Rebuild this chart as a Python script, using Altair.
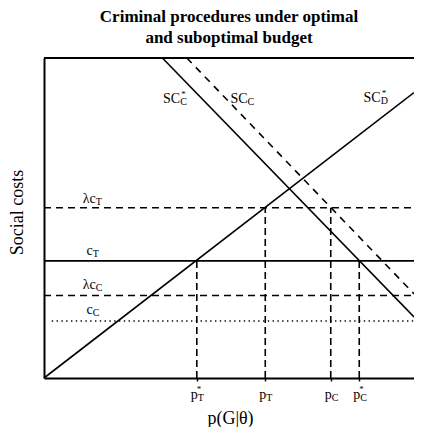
import altair as alt
import pandas as pd

FONT = "Liberation Serif, Times New Roman, Times, serif"

# horizontal cost levels
h_label = ["λc_T", "c_T", "λc_C", "c_C"]
h_y = [53.2, 36.6, 25.8, 17.8]
h_x0 = [0.0, 0.0, 0.0, 2.1]
h_style = ["dashed", "solid", "dashed", "dotted"]

# social-cost curves (end points)
curve_name = ["SC_D*", "SC_D*", "SC_C*", "SC_C*", "SC_C", "SC_C"]
curve_x = [0.0, 100.0, 32.0, 100.0, 38.6, 100.0]
curve_y = [0.0, 89.2, 100.0, 19.1, 100.0, 26.3]
curve_style = ["solid", "solid", "solid", "solid", "dashed", "dashed"]

# probability thresholds on the x axis
p_x = [41.3, 59.8, 77.5, 85.2]
p_top = [36.6, 53.2, 53.2, 36.6]
p_sub = ["T", "T", "C", "C"]
p_star = ["*", "", "", "*"]

# curve / level labels
lab_main = ["SC", "SC", "SC", "λc", "c", "λc", "c"]
lab_sub = ["C", "C", "D", "T", "T", "C", "C"]
lab_star = ["*", "", "*", "", "", "", ""]
lab_x = [36.8, 55.0, 91.0, 14.0, 13.2, 14.0, 13.2]
lab_y = [85.8, 85.8, 86.2, 54.8, 38.5, 27.7, 20.0]

h_df = pd.DataFrame({"label": h_label, "y": h_y, "x0": h_x0, "x1": [100.0] * 4, "style": h_style})
c_df = pd.DataFrame({"name": curve_name, "x": curve_x, "y": curve_y, "style": curve_style})
p_df = pd.DataFrame({"x": p_x, "y0": [0.0] * 4, "y1": p_top, "main": ["p"] * 4, "sub": p_sub, "star": p_star})
l_df = pd.DataFrame({"main": lab_main, "sub": lab_sub, "star": lab_star, "x": lab_x, "y": lab_y})
top_df = pd.DataFrame({"x0": [0.0], "x1": [100.0], "y": [100.0]})

xs = alt.Scale(domain=[0, 100], nice=False, zero=False)
ys = alt.Scale(domain=[0, 100], nice=False, zero=False)

x_axis = alt.Axis(values=p_x, labels=False, ticks=True, tickSize=3, tickColor="black",
                  tickWidth=1.5, domain=True, domainColor="black", domainWidth=2, grid=False,
                  title="p(G|θ)", titleFont=FONT, titleFontSize=18, titleFontWeight="normal",
                  titleColor="black", titleX=186, titleY=45, titleBaseline="alphabetic",
                  titleAlign="center")
y_axis = alt.Axis(labels=False, ticks=False, domain=True, domainColor="black", domainWidth=2,
                  grid=False, title="Social costs", titleFont=FONT, titleFontSize=18,
                  titleFontWeight="normal", titleColor="black", titleAngle=270, titleX=-22,
                  titleY=154, titleBaseline="alphabetic", titleAlign="center")


def X(f):
    return alt.X(f + ":Q", scale=xs, axis=x_axis)


def Y(f):
    return alt.Y(f + ":Q", scale=ys, axis=y_axis)


top = alt.Chart(top_df).mark_rule(color="black", strokeWidth=2).encode(
    x=X("x0"), x2="x1", y=Y("y"))

h_dashed = alt.Chart(h_df).transform_filter(alt.datum.style == "dashed").mark_rule(
    color="black", strokeWidth=1.6, strokeDash=[7, 5]).encode(x=X("x0"), x2="x1", y=Y("y"))
h_solid = alt.Chart(h_df).transform_filter(alt.datum.style == "solid").mark_rule(
    color="black", strokeWidth=1.6).encode(x=X("x0"), x2="x1", y=Y("y"))
h_dotted = alt.Chart(h_df).transform_filter(alt.datum.style == "dotted").mark_rule(
    color="black", strokeWidth=1.4, strokeDash=[1.4, 3.4]).encode(x=X("x0"), x2="x1", y=Y("y"))

c_solid = alt.Chart(c_df).transform_filter(alt.datum.style == "solid").mark_line(
    color="black", strokeWidth=1.6).encode(x=X("x"), y=Y("y"), detail="name:N")
c_dashed = alt.Chart(c_df).transform_filter(alt.datum.style == "dashed").mark_line(
    color="black", strokeWidth=1.6, strokeDash=[7, 6]).encode(x=X("x"), y=Y("y"), detail="name:N")

v_dashed = alt.Chart(p_df).mark_rule(color="black", strokeWidth=1.6, strokeDash=[7, 4]).encode(
    x=X("x"), y=Y("y0"), y2="y1")

txt = dict(font=FONT, color="black", baseline="alphabetic")

lab_main_l = alt.Chart(l_df).mark_text(align="right", fontSize=14, **txt).encode(
    x=X("x"), y=Y("y"), text="main:N")
lab_sub_l = alt.Chart(l_df).mark_text(align="left", fontSize=10, dy=2, **txt).encode(
    x=X("x"), y=Y("y"), text="sub:N")
lab_star_l = alt.Chart(l_df).mark_text(align="left", fontSize=9, dx=1, dy=-6, **txt).encode(
    x=X("x"), y=Y("y"), text="star:N")

tick_main = alt.Chart(p_df).mark_text(align="right", fontSize=14, dx=1, dy=21, **txt).encode(
    x=X("x"), y=Y("y0"), text="main:N")
tick_sub = alt.Chart(p_df).mark_text(align="left", fontSize=10, dx=1, dy=23, **txt).encode(
    x=X("x"), y=Y("y0"), text="sub:N")
tick_star = alt.Chart(p_df).mark_text(align="left", fontSize=9, dx=0, dy=14, **txt).encode(
    x=X("x"), y=Y("y0"), text="star:N")

chart = alt.layer(
    top, h_dashed, h_solid, h_dotted, c_solid, c_dashed, v_dashed,
    lab_main_l, lab_sub_l, lab_star_l, tick_main, tick_sub, tick_star
).properties(
    width=370,
    height=320,
    title=alt.TitleParams(
        text=["Criminal procedures under optimal", "and suboptimal budget"],
        font=FONT, fontSize=17, fontWeight="bold", color="black",
        anchor="middle", frame="group", offset=8, lineHeight=21),
    autosize=alt.AutoSizeParams(type="none"),
    padding={"left": 36, "top": 50, "right": 0, "bottom": 49},
).configure_view(stroke="transparent")

chart.save("out.html", embed_options={"renderer": "svg", "actions": False})
